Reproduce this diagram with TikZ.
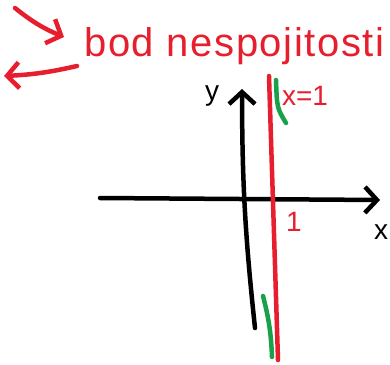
\documentclass[tikz,border=0pt]{standalone}
\usepackage{fontspec}
\setmainfont{Liberation Sans}
\newfontfamily\penfont[LetterSpace=4]{Liberation Sans}
\usetikzlibrary{arrows.meta}
\definecolor{penred}{RGB}{230,30,45}
\definecolor{pengreen}{RGB}{25,160,75}

\begin{document}
\begin{tikzpicture}[
  x=1pt, y=-1pt,
  ink/.style={line width=4.5pt, line cap=round, line join=round},
  arr/.style={ink, -{Straight Barb[length=12pt, width=26pt]}},
  title/.style={inner sep=0pt, text=penred, font=\penfont\fontsize{40}{40}\selectfont},
  lbl/.style={inner sep=0pt, font=\fontsize{28}{28}\selectfont}
]
\useasboundingbox (0,0) rectangle (390,364);

% red arrows and the caption
\coordinate (a1s) at (15,8);
\coordinate (a1e) at (64,37);
\draw[arr, penred] (a1s) to[bend right=8] (a1e);
\coordinate (a2s) at (77,66);
\coordinate (a2e) at (4,76);
\draw[arr, penred] (a2s) to[bend left=5] (a2e);
\node[title, anchor=base west] (bod) at (84,56) {bod nespojitosti};

% axes
\coordinate (xl) at (100,198);
\coordinate (xr) at (380,200);
\draw[arr] (xl) -- (xr);
\coordinate (yb) at (255,328);
\coordinate (yt) at (242,89);
\draw[arr] (yb) to[bend left=3] (yt);
\node[lbl] (ylab) at (212,96) {y};
\node[lbl] (xlab) at (381,232) {x};

% asymptote x=1
\coordinate (ab) at (278,360);
\coordinate (at) at (269,76);
\draw[ink, penred] (ab) -- (at);
\node[lbl, text=penred] (eq) at (305,96) {x=1};
\node[lbl, text=penred] (one) at (294,222) {1};

% green pieces of the graph
\coordinate (g1t) at (276,80);
\coordinate (g1b) at (286,123);
\draw[ink, pengreen] (g1t) .. controls (277,108) .. (g1b);
\coordinate (g2t) at (263,296);
\coordinate (g2b) at (272,357);
\draw[ink, pengreen] (g2t) to[bend left=6] (g2b);
\end{tikzpicture}
\end{document}
